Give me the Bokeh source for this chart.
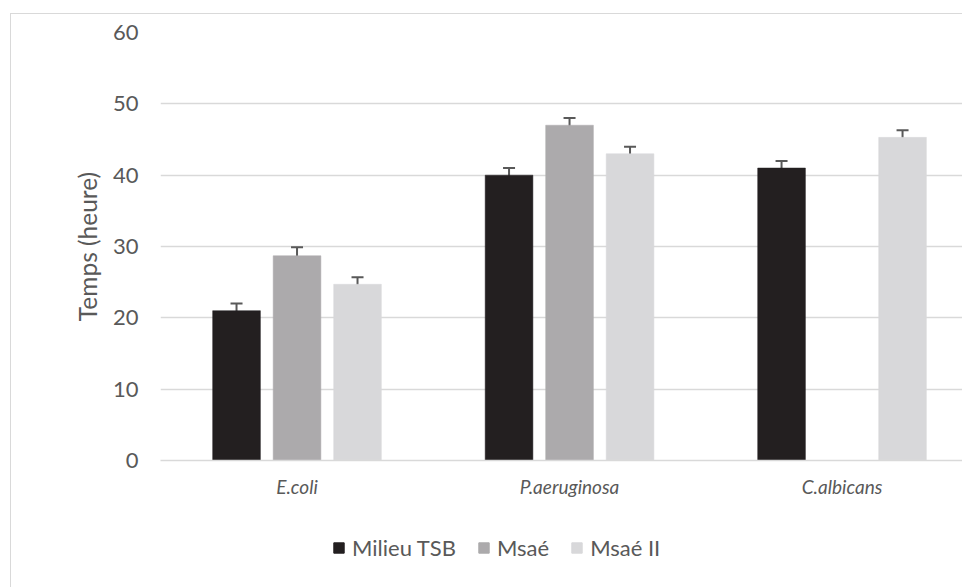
from bokeh.plotting import figure
from bokeh.layouts import column
from bokeh.models import (ColumnDataSource, Whisker, TeeHead, Legend, LegendItem,
                          FixedTicker)
from bokeh.embed import file_html
from bokeh.resources import INLINE

# ---- data ----
categories = ["E.coli", "P.aeruginosa", "C.albicans"]
series_names = ["Milieu TSB", "Msaé", "Msaé II"]
tsb = [21.0, 40.0, 41.0]
msae = [28.7, 47.0, float("nan")]
msae2 = [24.7, 43.0, 45.3]
tsb_err = [1.0, 1.0, 1.0]
msae_err = [1.2, 1.0, float("nan")]
msae2_err = [1.0, 1.0, 1.0]
y_ticks = [0, 10, 20, 30, 40, 50, 60]

colors = ["#231f20", "#acaaac", "#d8d8da"]
offsets = [-0.222, 0.0, 0.222]
bar_w = 0.175
FONT = "Lato"
TXT = "#595959"

p = figure(width=951, height=510, output_backend="svg", toolbar_location=None,
           x_range=(-0.501, 2.442), y_range=(0, 60),
           min_border_left=149, min_border_right=0, min_border_top=18,
           min_border_bottom=64)
p.outline_line_color = None

renderers = []
for vals, errs, col, off in zip([tsb, msae, msae2], [tsb_err, msae_err, msae2_err],
                                colors, offsets):
    xs, tops, ups, lows = [], [], [], []
    for i, (v, e) in enumerate(zip(vals, errs)):
        if v == v:
            xs.append(i + off)
            tops.append(v)
            ups.append(v + e)
            lows.append(v - e)
    src = ColumnDataSource(dict(x=xs, top=tops, upper=ups, lower=lows))
    r = p.vbar(x="x", top="top", bottom=0, width=bar_w, source=src,
               fill_color=col, line_color=col, line_width=0.5)
    renderers.append(r)
    w = Whisker(base="x", upper="upper", lower="lower", source=src,
                line_color="#595959", line_width=2,
                upper_head=TeeHead(size=12, line_color="#595959", line_width=2),
                lower_head=TeeHead(size=12, line_color="#595959", line_width=2))
    p.add_layout(w)

# axes
p.xaxis.ticker = FixedTicker(ticks=list(range(len(categories))))
p.xaxis.major_label_overrides = {i: c for i, c in enumerate(categories)}
p.xaxis.major_label_text_font_style = "italic"
p.xaxis.major_label_text_font = FONT
p.xaxis.major_label_text_font_size = "19px"
p.xaxis.major_label_text_color = TXT
p.xaxis.major_label_standoff = 8
p.xaxis.axis_line_color = "#d9d9d9"
p.xaxis.axis_line_width = 1.5
p.xaxis.major_tick_line_color = None
p.xaxis.minor_tick_line_color = None

p.yaxis.ticker = FixedTicker(ticks=y_ticks)
p.yaxis.major_label_text_font = FONT
p.yaxis.major_label_text_font_size = "22px"
p.yaxis.major_label_text_color = TXT
p.yaxis.major_label_standoff = 16
p.yaxis.axis_line_color = None
p.yaxis.major_tick_line_color = None
p.yaxis.minor_tick_line_color = None
p.yaxis.axis_label = "Temps (heure)"
p.yaxis.axis_label_text_font = FONT
p.yaxis.axis_label_text_font_style = "normal"
p.yaxis.axis_label_text_font_size = "24.5px"
p.yaxis.axis_label_text_color = TXT
p.yaxis.axis_label_standoff = 8

p.xgrid.grid_line_color = None
p.ygrid.grid_line_color = "#d9d9d9"
p.ygrid.grid_line_width = 1.5

# legend strip below the chart
q = figure(width=951, height=63, output_backend="svg", toolbar_location=None,
           x_range=(0, 1), y_range=(0, 1), x_axis_location=None, y_axis_location=None,
           min_border_left=0, min_border_right=0, min_border_top=0, min_border_bottom=0)
q.grid.visible = False
q.outline_line_color = None
leg_renderers = [q.vbar(x=[0], top=[float("nan")], width=0.1, fill_color=c, line_color=c)
                 for c in colors]

legend = Legend(items=[LegendItem(label=n, renderers=[r]) for n, r in zip(series_names, leg_renderers)],
                orientation="horizontal", location=(172, 26))
legend.label_text_font = FONT
legend.label_text_font_size = "22px"
legend.label_text_color = TXT
legend.glyph_width = 13
legend.glyph_height = 13
legend.label_standoff = 7
legend.spacing = 21
legend.padding = 0
legend.margin = 0
legend.border_line_alpha = 0
legend.background_fill_alpha = 0
q.add_layout(legend, "center")

layout = column(p, q, spacing=0)
layout.styles = {"margin-left": "10px", "margin-top": "13px",
                 "border-left": "1px solid #d9d9d9", "border-top": "1px solid #d9d9d9"}

open("out.html", "w").write(file_html(layout, INLINE))
